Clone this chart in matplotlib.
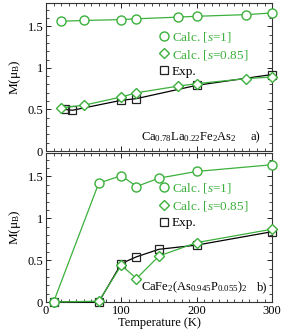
import matplotlib
matplotlib.use("Agg")
import matplotlib.pyplot as plt
from matplotlib.lines import Line2D
from matplotlib.ticker import MultipleLocator

plt.rcParams['font.family'] = ['Liberation Serif', 'DejaVu Serif']
plt.rcParams['mathtext.fontset'] = 'custom'
plt.rcParams['mathtext.rm'] = 'Liberation Serif'
plt.rcParams['mathtext.it'] = 'Liberation Serif:italic'
plt.rcParams['font.size'] = 8

GREEN = '#3cb03c'

# Panel a) Ca0.78La0.22Fe2As2
a_T_calc = [20, 50, 100, 120, 175, 200, 265, 300]
a_s1 = [1.56, 1.57, 1.58, 1.59, 1.61, 1.62, 1.64, 1.66]
a_s085 = [0.52, 0.55, 0.65, 0.70, 0.78, 0.81, 0.87, 0.89]
a_T_exp = [25, 35, 100, 120, 200, 300]
a_exp = [0.50, 0.49, 0.61, 0.63, 0.79, 0.92]

# Panel b) CaFe2(As0.945P0.055)2
b_T = [10, 70, 100, 120, 150, 200, 300]
b_s1 = [0.0, 1.42, 1.51, 1.38, 1.48, 1.56, 1.64]
b_s085 = [0.0, 0.01, 0.44, 0.28, 0.55, 0.71, 0.87]
b_exp = [0.0, 0.0, 0.46, 0.54, 0.63, 0.68, 0.84]

labels = ['Calc. [$s$=$\\mathit{1}$]', 'Calc. [$s$=$\\mathit{0.85}$]', 'Exp.']
yticks = [0, 0.5, 1, 1.5]
ytick_labels = ['0', '0.5', '1', '1.5']
xticks = [0, 100, 200, 300]

fig = plt.figure(figsize=(2.84, 3.33), dpi=100)
ax1 = fig.add_axes([0.162, 0.5465, 0.796, 0.4445])
ax2 = fig.add_axes([0.162, 0.093, 0.796, 0.4475])

ms = 6.5
def draw(ax, Tc, s1, s085, Te, exp, leg_y):
    ax.plot(Te, exp, '-', color='black', lw=0.9, marker='s', ms=ms*0.85,
            mfc='none', mec='#222222', mew=0.9, clip_on=False, zorder=3)
    ax.plot(Tc, s085, '-', color=GREEN, lw=0.9, marker='D', ms=ms*0.85,
            mfc='white', mec=GREEN, mew=1.0, clip_on=False, zorder=4)
    ax.plot(Tc, s1, '-', color=GREEN, lw=0.9, marker='o', ms=ms,
            mfc='white', mec=GREEN, mew=1.0, clip_on=False, zorder=4)
    ax.set_xlim(0, 300)
    ax.set_ylim(0, 1.78)
    ax.set_xticks(xticks)
    ax.xaxis.set_minor_locator(MultipleLocator(10))
    ax.set_yticks(yticks)
    ax.set_yticklabels(ytick_labels)
    ax.yaxis.set_minor_locator(MultipleLocator(0.1))
    ax.tick_params(which='both', direction='in', top=True, right=True,
                   labelsize=9, pad=2)
    ax.tick_params(which='major', length=3.5, width=0.6)
    ax.tick_params(which='minor', length=2, width=0.5)
    for sp in ax.spines.values():
        sp.set_linewidth(0.8)
        sp.set_color('#333333')
    ax.set_ylabel('M(μ$_\\mathrm{B}$)', fontsize=9.5, labelpad=3)
    handles = [
        Line2D([], [], ls='none', marker='o', ms=ms, mfc='none', mec=GREEN, mew=1.0),
        Line2D([], [], ls='none', marker='D', ms=ms*0.85, mfc='none', mec=GREEN, mew=1.0),
        Line2D([], [], ls='none', marker='s', ms=ms*0.85, mfc='none', mec='#222222', mew=0.9),
    ]
    leg = ax.legend(handles, labels, loc='upper left', bbox_to_anchor=(0.505, leg_y),
                    frameon=False, handlelength=0.6, handletextpad=0.3,
                    labelspacing=0.3, fontsize=9.5, borderaxespad=0, borderpad=0)
    for t, c in zip(leg.get_texts(), [GREEN, GREEN, 'black']):
        t.set_color(c)

draw(ax1, a_T_calc, a_s1, a_s085, a_T_exp, a_exp, 0.82)
draw(ax2, b_T, b_s1, b_s085, b_T, b_exp, 0.81)
ax1.tick_params(labelbottom=False)
ax2.set_xlabel('Temperature (K)', fontsize=9, labelpad=0)

ax1.text(0.42, 0.07, 'Ca$_{0.78}$La$_{0.22}$Fe$_2$As$_2$', transform=ax1.transAxes,
         fontsize=9, ha='left', va='baseline')
ax1.text(0.905, 0.07, 'a)', transform=ax1.transAxes, fontsize=9, ha='left', va='baseline')
ax2.text(0.42, 0.08, 'CaFe$_2$(As$_{0.945}$P$_{0.055}$)$_2$', transform=ax2.transAxes,
         fontsize=9, ha='left', va='baseline')
ax2.text(0.935, 0.08, 'b)', transform=ax2.transAxes, fontsize=9, ha='left', va='baseline')

fig.savefig('out.png', dpi=100)
